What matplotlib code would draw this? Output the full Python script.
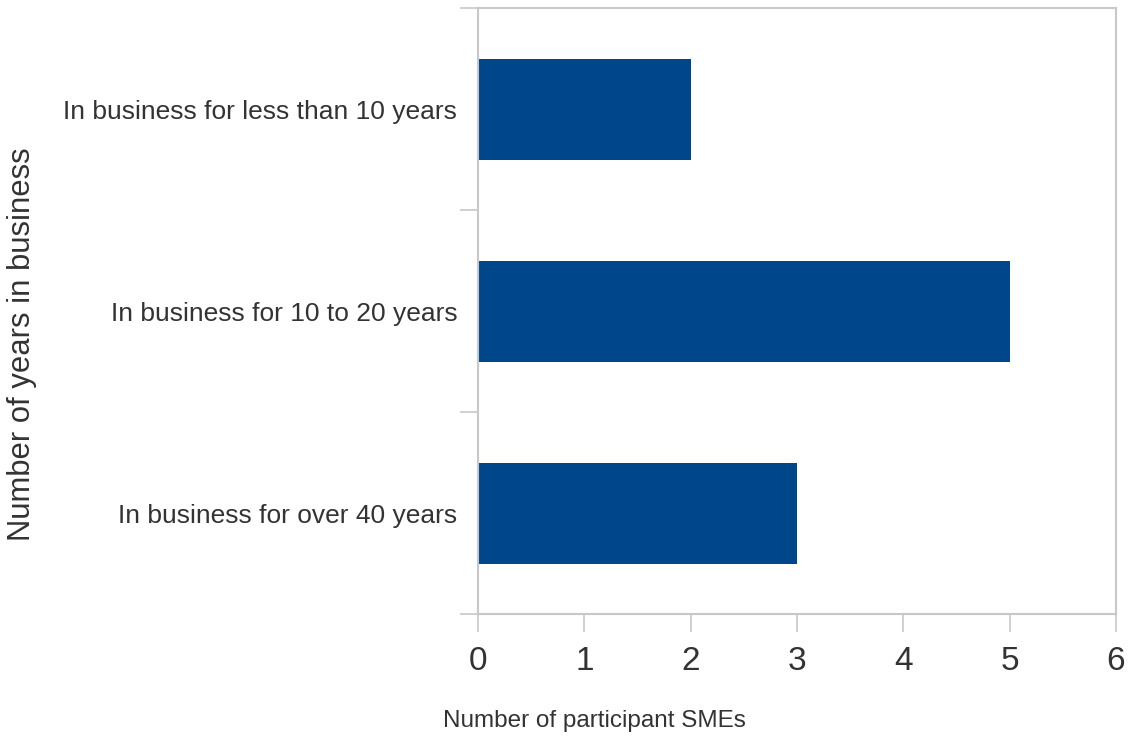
import matplotlib
matplotlib.use("Agg")
import matplotlib.pyplot as plt

categories = [
    "In business for less than 10 years",
    "In business for 10 to 20 years",
    "In business for over 40 years",
]
sme_counts = [2, 5, 3]
x_ticks = [0, 1, 2, 3, 4, 5, 6]

bar_color = "#00468a"
frame_color = "#c8c8c8"
text_color = "#333333"
sans = ["Liberation Sans", "DejaVu Sans"]

fig = plt.figure(figsize=(11.32, 7.46), dpi=100)
ax = fig.add_axes([478 / 1132, 1 - 614 / 746, (1116 - 478) / 1132, (614 - 8) / 746])

positions = list(range(len(categories)))
ax.barh(positions, sme_counts, height=0.5, color=bar_color, zorder=2)

ax.set_xlim(0, 6)
ax.set_ylim(len(categories) - 0.5, -0.5)
ax.set_xticks(x_ticks)
ax.set_xticklabels([str(t) for t in x_ticks], family=sans, fontsize=24, color=text_color)

# category labels centred on bars, tick marks between categories
ax.set_yticks(positions)
ax.set_yticklabels(categories, family=sans, fontsize=19, color=text_color)
ax.set_yticks([p + 0.5 for p in [-1] + positions], minor=True)
ax.tick_params(axis="y", which="major", length=0, pad=15)
ax.tick_params(axis="y", which="minor", length=13, width=1.2, color=frame_color)
ax.tick_params(axis="x", which="major", length=13, width=1.2, color=frame_color, pad=10)

for side in ax.spines.values():
    side.set_color(frame_color)
    side.set_linewidth(1.5)

fig.text(594 / 1132, 1 - 721 / 746, "Number of participant SMEs", ha="center", va="center",
         family=sans, fontsize=17.5, color=text_color)
fig.text(22 / 1132, 1 - 344 / 746, "Number of years in business", rotation=90,
         ha="center", va="center", family=sans, fontsize=22.3, color=text_color)

fig.savefig("out.png", dpi=100)
